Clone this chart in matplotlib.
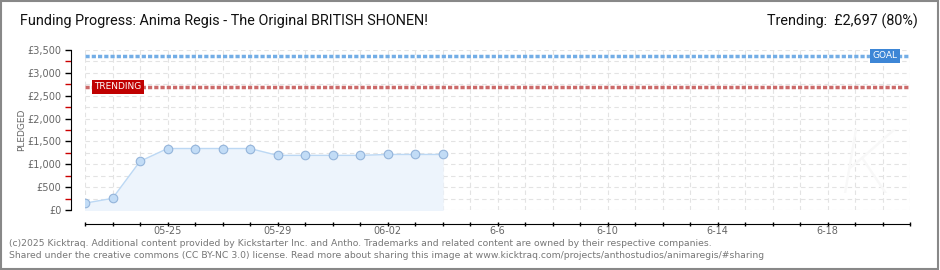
import matplotlib
matplotlib.use("Agg")
from matplotlib import pyplot as plt
from matplotlib.patches import Rectangle
import numpy as np
import datetime as dt

# Data
start = dt.date(2025, 5, 22)
pledged = [150, 255, 1065, 1345, 1345, 1345, 1345, 1195, 1195, 1195, 1195, 1215, 1215, 1215]
goal = 3371
trending = 2697
n_days = 30
ytick_vals = [0, 500, 1000, 1500, 2000, 2500, 3000, 3500]
ytick_labels = ['£0', '£500', '£1,000', '£1,500', '£2,000', '£2,500', '£3,000', '£3,500']
xlabel_days = [3, 7, 11, 15, 19, 23, 27]
xlabel_text = ['05-25', '05-29', '06-02', '6-6', '6-10', '6-14', '6-18']

W, H = 940, 270
fig = plt.figure(figsize=(W / 100, H / 100), dpi=100)
fig.patch.set_facecolor('white')
fig.add_artist(Rectangle((0.001, 0.002), 0.997, 0.995, transform=fig.transFigure,
                         fill=False, edgecolor='#888888', lw=1.5))

ax = fig.add_axes([85 / W, (H - 210) / H, 825 / W, 160 / H])
days = np.arange(len(pledged))

ax.set_xlim(0, n_days)
ax.set_ylim(0, 3500)

# grid
for d in range(n_days + 1):
    ax.axvline(d, color='#e3e3e3', lw=0.8, ls=(0, (4, 3)), zorder=0)
for v in np.arange(0, 3501, 250):
    ax.axhline(v, color='#e3e3e3', lw=0.8, ls=(0, (4, 3)), zorder=0)

# pledged series
ax.fill_between(days, pledged, 0, color='#edf4fc', zorder=1)
ax.plot(days, pledged, color='#bcd8f4', lw=1, zorder=2)
ax.scatter(days, pledged, s=38, color='#c2dcf6', edgecolor='#94b4da', lw=0.8, zorder=3)

# goal / trending lines
ax.axhline(goal, color='#74aee6', lw=2.5, ls=(0, (1.2, 0.6)), zorder=2)
ax.axhline(trending, color='#cc6a6a', lw=2.5, ls=(0, (1.2, 0.6)), zorder=2)
ax.text(29.1, goal, 'GOAL', color='white', fontsize=6.5, va='center', ha='center',
        bbox=dict(boxstyle='square,pad=0.25', fc='#3d86d6', ec='none'), zorder=4)
ax.text(1.2, trending, 'TRENDING', color='white', fontsize=6.5, va='center', ha='center',
        bbox=dict(boxstyle='square,pad=0.3', fc='#c00000', ec='none'), zorder=4)

# watermark
ax.text(28.4, 900, 'K', fontsize=64, color='#f8f8f8', style='italic', ha='center',
        va='center', zorder=0, family='Roboto', weight='light')

# spines
for s in ['top', 'right']:
    ax.spines[s].set_visible(False)
ax.spines['left'].set_position(('outward', 10))
ax.spines['bottom'].set_position(('outward', 10))
ax.spines['left'].set_color('black')
ax.spines['bottom'].set_color('black')

ax.set_yticks(ytick_vals)
ax.set_yticklabels(ytick_labels, fontsize=7, color='#666666')
ax.set_yticks(np.arange(250, 3500, 500), minor=True)
ax.tick_params(axis='y', which='major', length=4, width=1, pad=3)
ax.tick_params(axis='y', which='minor', length=4, width=1, color='#cc0000')

ax.set_xticks(range(n_days + 1))
ax.set_xticklabels(['' for _ in range(n_days + 1)])
ax.tick_params(axis='x', which='major', length=3, width=1, direction='inout')
for d, t in zip(xlabel_days, xlabel_text):
    ax.text(d, -0.1, t, transform=ax.get_xaxis_transform(), fontsize=7,
            color='#666666', ha='center', va='top')

ax.set_ylabel('PLEDGED', fontsize=6.5, color='#666666', labelpad=1)

# titles
fig.text(20 / W, 1 - 21 / H, 'Funding Progress: Anima Regis - The Original BRITISH SHONEN!',
         fontsize=10.4, family='Roboto', color='#111111', va='center', ha='left')
fig.text(918 / W, 1 - 21 / H, 'Trending:  £2,697 (80%)',
         fontsize=10.4, family='Roboto', color='#111111', va='center', ha='right')

fig.text(9 / W, 1 - 243 / H,
         '(c)2025 Kicktraq. Additional content provided by Kickstarter Inc. and Antho. '
         'Trademarks and related content are owned by their respective companies.',
         fontsize=6.7, color='#777777', va='center', ha='left')
fig.text(9 / W, 1 - 256 / H,
         'Shared under the creative commons (CC BY-NC 3.0) license. Read more about sharing '
         'this image at www.kicktraq.com/projects/anthostudios/animaregis/#sharing',
         fontsize=6.7, color='#777777', va='center', ha='left')

fig.savefig('out.png', dpi=100)
